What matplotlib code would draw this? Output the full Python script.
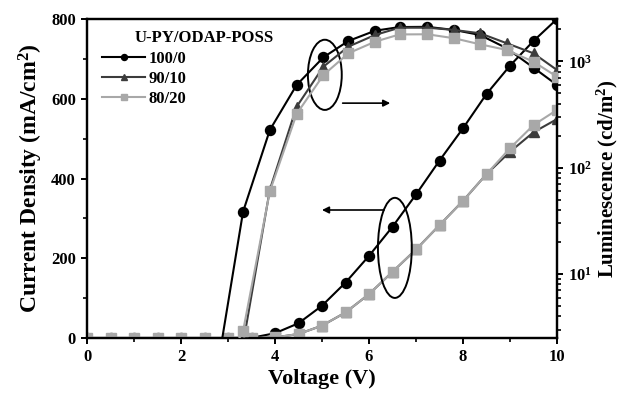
import matplotlib
matplotlib.use("Agg")
import numpy as np
from matplotlib import pyplot as plt
from matplotlib.patches import Ellipse

plt.rcParams['font.family'] = ['Liberation Serif', 'DejaVu Serif']
plt.rcParams['font.weight'] = 'bold'
plt.rcParams['mathtext.fontset'] = 'custom'
plt.rcParams['mathtext.rm'] = 'Liberation Serif:bold'
plt.rcParams['mathtext.bf'] = 'Liberation Serif:bold'
plt.rcParams['mathtext.it'] = 'Liberation Serif:bold'

series = ['100/0', '90/10', '80/20']
colors = ['#000000', '#3c3c3c', '#a8a8a8']
markers = ['o', '^', 's']

# current density (mA/cm2), left axis
voltage_j = [0, 0.5, 1.0, 1.5, 2.0, 2.5, 3.0, 3.5, 4.0, 4.5, 5.0,
             5.5, 6.0, 6.5, 7.0, 7.5, 8.0, 8.5, 9.0, 9.5, 10.0]
j_100_0 = [0, 0, 0, 0, 0, 0, 0, 0.5, 12, 37, 81, 139, 206, 279, 360, 445, 526, 612, 683, 745, 800]
j_90_10 = [0, 0, 0, 0, 0, 0, 0, 0, 1.5, 10, 31, 64, 110, 166, 222, 283, 344, 411, 467, 516, 549]
j_80_20 = [0, 0, 0, 0, 0, 0, 0, 0, 1.5, 10, 31, 64, 110, 166, 222, 283, 344, 411, 476, 534, 572]

# luminescence (cd/m2), right axis
voltage_l = [2.76, 3.32, 3.89, 4.46, 5.03, 5.56, 6.13, 6.65, 7.24, 7.81, 8.36, 8.93, 9.5, 10.0]
l_100_0 = [1.2, 38.5, 226, 599, 1091, 1553, 1940, 2100, 2110, 1972, 1770, 1327, 871, 599]
l_90_10 = [1.0, 2.2, 62, 374, 891, 1374, 1770, 2070, 2070, 1972, 1836, 1479, 1189, 828]
l_80_20 = [1.0, 2.9, 60, 320, 743, 1189, 1531, 1790, 1796, 1648, 1446, 1279, 991, 716]

fig = plt.figure(figsize=(6.26, 3.95), dpi=100)
ax = fig.add_axes([0.139, 0.1443, 0.7508, 0.8076])
ax2 = ax.twinx()

msizes = [7.2, 7.2, 6.5]
for jy, ly, lab, c, m, ms in zip([j_100_0, j_90_10, j_80_20], [l_100_0, l_90_10, l_80_20],
                                 series, colors, markers, msizes):
    ax.plot(voltage_j, jy, color=c, marker=m, ms=ms, lw=1.5, label=lab, zorder=3)
    ax2.plot(voltage_l, ly, color=c, marker=m, ms=ms, lw=1.5, zorder=3)

ax.set_xlim(0, 10)
ax.set_ylim(0, 800)
ax.set_xticks([0, 2, 4, 6, 8, 10])
ax.set_xticks([1, 3, 5, 7, 9], minor=True)
ax.set_yticks([0, 200, 400, 600, 800])
ax.set_yticks([100, 300, 500, 700], minor=True)

ax2.set_yscale('log')
ax2.set_ylim(2.5, 2500)

for a in (ax, ax2):
    for s in a.spines.values():
        s.set_linewidth(1.6)
    a.tick_params(which='major', length=4.5, width=1.4, labelsize=12, direction='out')
    a.tick_params(which='minor', length=3, width=1.2, direction='out')

ax.set_xlabel('Voltage (V)', fontsize=16, fontweight='bold', labelpad=3)
ax.set_ylabel('Current Density (mA/cm$^{2}$)', fontsize=17, fontweight='bold', labelpad=4)
ax2.set_ylabel('Luminescence (cd/m$^{2}$)', fontsize=15, fontweight='bold', labelpad=2)

# legend
ax.text(0.102, 0.94, 'U-PY/ODAP-POSS', transform=ax.transAxes, fontsize=12,
        fontweight='bold', va='center', ha='left')
leg = ax.legend(loc='upper left', bbox_to_anchor=(0.0, 0.948), frameon=False,
                fontsize=12, handlelength=2.6, handletextpad=0.2, labelspacing=0.25,
                markerscale=0.6)
for t in leg.get_texts():
    t.set_fontweight('bold')

# ellipses with arrows
ax.add_patch(Ellipse((5.06, 660), 0.72, 176, fill=False, lw=1.4, color='k', zorder=4))
ax.annotate('', xy=(6.51, 589), xytext=(5.38, 589),
            arrowprops=dict(arrowstyle='-|>', color='k', lw=1.2, mutation_scale=10))
ax.add_patch(Ellipse((6.55, 226), 0.72, 251, fill=False, lw=1.4, color='k', zorder=4))
ax.annotate('', xy=(4.94, 321), xytext=(6.38, 321),
            arrowprops=dict(arrowstyle='-|>', color='k', lw=1.2, mutation_scale=10))

fig.savefig('out.png', dpi=100)
